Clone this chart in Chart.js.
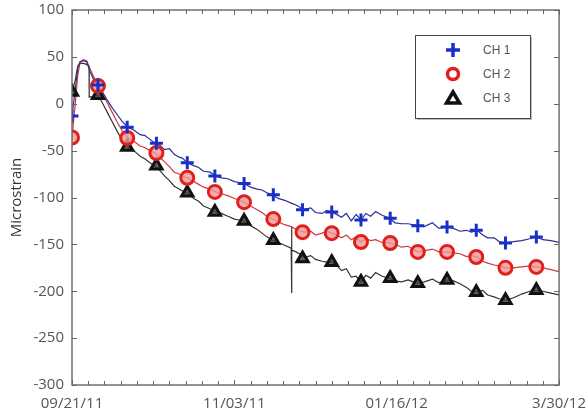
<!DOCTYPE html>
<html>
<head>
<meta charset="utf-8">
<script src="https://cdn.jsdelivr.net/npm/chart.js@4/dist/chart.umd.min.js"></script>
<style>
  html, body { margin: 0; padding: 0; background: #fff; }
  #wrap { width: 588px; height: 417px; }
</style>
</head>
<body>
<div id="wrap"><canvas id="myChart" width="588" height="417"></canvas></div>
<script>
// data (x is position along the time axis, 0..300)
var dateLabels = ['09/21/11', '11/03/11', '01/16/12', '3/30/12'];
var yTicks = [100, 50, 0, -50, -100, -150, -200, -250, -300];

var ch1X = [0, 2, 3.5, 5, 7, 9, 11, 13, 16, 19, 22, 25, 28, 31, 34.4, 38, 42, 45, 48, 51, 54, 57, 60, 63, 66, 68, 71, 75, 78, 81, 85, 88.5, 92, 96, 100, 103, 106, 110, 114, 117, 120, 123.5, 127, 131, 135, 138, 141, 143, 147, 150, 154, 157, 160, 163, 166, 169, 172, 175, 178, 181, 184, 187, 191, 195.5, 199, 203, 207, 212.7, 217, 222, 226, 231, 235, 239, 243, 246, 249.5, 253, 256, 260, 263, 267.4, 272, 277, 282, 285.8, 290, 295, 300];
var ch1Y = [-13, 15, 38, 45, 46, 45, 35, 27, 20, 12, 3, -5, -12, -19, -25, -28, -33, -34, -38, -42, -44, -49, -48, -54, -57, -58, -63, -66, -68, -72, -73, -77, -79, -80, -83, -84, -85, -89, -91, -92, -95, -97, -101, -103, -106, -108, -111, -113, -111, -116, -117, -114, -115.5, -118, -121, -117, -125, -118, -124, -117, -120, -115, -119, -122, -127, -128, -128, -130, -131, -127, -133, -131.5, -133, -136, -135, -137, -135, -140, -143, -143, -147, -148.5, -147, -146, -144, -142, -145, -146, -148];

var ch2X = ch1X;
var ch2Y = [-36, 0, 30, 44, 47, 46, 38, 30, 19, 10, 0, -10, -20, -29, -36.5, -40, -45, -47, -50, -52.5, -57, -62, -67, -73, -75, -77, -79, -83, -86, -89, -91, -94, -96, -98, -101, -103, -105, -109, -113, -116, -120, -123, -126, -129, -131, -134, -136, -137, -136, -140, -138, -136, -138, -140, -143, -140, -145, -142, -147.5, -144, -146, -145, -148, -148.5, -150, -153, -152, -158, -157, -155, -158, -158, -159, -160, -163, -162, -163.5, -168, -170, -172, -173, -175, -175, -174, -173, -174, -175, -177, -179];

var ch3X = [0, 2, 3.5, 5, 7, 9, 10.5, 10.6, 13, 16, 19, 22, 25, 28, 31, 34.4, 38, 42, 45, 48, 51, 54, 57, 60, 63, 66, 68, 71, 75, 78, 81, 85, 88.5, 92, 96, 100, 103, 106, 110, 114, 117, 120, 123.5, 127, 131, 135, 135.2, 135.3, 135.5, 138, 141, 143, 147, 150, 154, 157, 160, 163, 166, 169, 172, 175, 178, 181, 184, 187, 191, 195.5, 199, 203, 207, 212.7, 217, 222, 226, 231, 235, 239, 243, 246, 249.5, 253, 256, 260, 263, 267.4, 272, 277, 282, 285.8, 290, 295, 300];
var ch3Y = [12.5, 25, 40, 43, 43, 42, 40, 7, 8, 9, 0, -10, -20, -30, -39, -46, -50, -56, -59, -63, -66, -71, -77, -82, -88, -91, -93, -95, -101, -104, -109, -112, -115.5, -117, -120, -123, -124, -125, -130, -134, -138, -142, -145.5, -148, -151, -154, -131, -202, -156, -158, -161, -164, -162, -166, -168, -169, -169, -172, -178, -176, -185, -184, -190, -183, -186, -180, -184, -186, -189, -190, -188, -191.5, -190, -187, -191, -188, -189, -192, -196, -200, -201, -199, -204, -206, -208, -209.5, -207, -203, -200, -199, -200, -202, -204];

var markerX = [0, 16, 34, 52, 71, 88, 106, 124, 142, 160, 178, 196, 213, 231, 249, 267, 286];
var ch1Marks = [-13, 20, -25, -42, -63, -77, -85, -97, -113, -115.5, -124, -122, -130, -131.5, -135, -148.5, -142];
var ch2Marks = [-36, 19, -36.5, -52.5, -79, -94, -105, -123, -137, -138, -147.5, -148.5, -158, -158, -163.5, -175, -174];
var ch3Marks = [12.5, 9, -46, -66, -95, -115.5, -125, -145.5, -165, -169, -190, -186, -191.5, -188, -201, -209.5, -199];

var seriesNames = ['CH 1', 'CH 2', 'CH 3'];

function pts(xs, ys) {
    return xs.map(function(x, i) { return { x: x, y: ys[i] }; });
}

function lineSet(xs, ys, color) {
    return {
        data: pts(xs, ys),
        borderColor: color,
        borderWidth: 1.2,
        pointRadius: 0,
        tension: 0,
        order: 2
    };
}

function markSet(name, ys, style, color, fill) {
    return {
        label: name,
        data: pts(markerX, ys),
        showLine: false,
        pointStyle: style,
        pointRadius: 6.5,
        pointBorderWidth: 3,
        pointBorderColor: color,
        pointBackgroundColor: fill,
        order: 1
    };
}

// frame + inward ticks, matlab style
var frameTicks = {
    id: 'frameTicks',
    afterDatasetsDraw: function(chart) {
        var ctx = chart.ctx, a = chart.chartArea;
        var xs = chart.scales.x, ys = chart.scales.y;
        ctx.save();
        ctx.strokeStyle = '#666';
        ctx.lineWidth = 1.4;
        ctx.strokeRect(a.left, a.top, a.right - a.left, a.bottom - a.top);
        ctx.lineWidth = 1;
        for (var v = 0; v <= 300; v += 10) {
            var px = Math.round(xs.getPixelForValue(v)) + 0.5;
            var len = (v % 100 === 0) ? 5 : 4;
            ctx.beginPath();
            ctx.moveTo(px, a.bottom); ctx.lineTo(px, a.bottom - len);
            ctx.moveTo(px, a.top); ctx.lineTo(px, a.top + len);
            ctx.stroke();
        }
        yTicks.forEach(function(t) {
            var py = Math.round(ys.getPixelForValue(t)) + 0.5;
            ctx.beginPath();
            ctx.moveTo(a.left, py); ctx.lineTo(a.left + 5, py);
            ctx.moveTo(a.right, py); ctx.lineTo(a.right - 5, py);
            ctx.stroke();
        });
        ctx.restore();
    }
};

// boxed legend in the upper right
var boxLegend = {
    id: 'boxLegend',
    afterDraw: function(chart) {
        var ctx = chart.ctx;
        var bx = 415, by = 35, bw = 115, bh = 83;
        ctx.save();
        ctx.fillStyle = '#bbb';
        ctx.fillRect(bx + 2, by + 2, bw, bh);
        ctx.fillStyle = '#fff';
        ctx.fillRect(bx, by, bw, bh);
        ctx.strokeStyle = '#444';
        ctx.lineWidth = 1;
        ctx.strokeRect(bx + 0.5, by + 0.5, bw, bh);
        var rows = [50, 74, 98];
        var sets = [chart.data.datasets[3], chart.data.datasets[4], chart.data.datasets[5]];
        sets.forEach(function(ds, i) {
            var cx = 453, cy = rows[i];
            ctx.lineWidth = 3.5;
            ctx.strokeStyle = ds.pointBorderColor;
            ctx.beginPath();
            if (ds.pointStyle === 'cross') {
                ctx.moveTo(cx - 7, cy); ctx.lineTo(cx + 7, cy);
                ctx.moveTo(cx, cy - 7); ctx.lineTo(cx, cy + 7);
            } else if (ds.pointStyle === 'circle') {
                ctx.arc(cx, cy, 5.5, 0, Math.PI * 2);
            } else {
                ctx.moveTo(cx, cy - 6); ctx.lineTo(cx + 6.5, cy + 5); ctx.lineTo(cx - 6.5, cy + 5); ctx.closePath();
            }
            ctx.stroke();
            ctx.fillStyle = '#555';
            ctx.font = '12px "Liberation Sans", sans-serif';
            ctx.textBaseline = 'middle';
            ctx.fillText(ds.label, 483, cy + 1);
        });
        ctx.restore();
    }
};

new Chart(document.getElementById('myChart').getContext('2d'), {
    type: 'line',
    data: {
        datasets: [
            lineSet(ch1X, ch1Y, '#2b2f8f'),
            lineSet(ch2X, ch2Y, '#d03a3a'),
            lineSet(ch3X, ch3Y, '#333333'),
            markSet(seriesNames[0], ch1Marks, 'cross', '#1a2fc8', '#1a2fc8'),
            markSet(seriesNames[1], ch2Marks, 'circle', '#e0201c', 'rgba(240,150,150,0.8)'),
            markSet(seriesNames[2], ch3Marks, 'triangle', '#111111', 'rgba(60,60,60,0.8)')
        ]
    },
    options: {
        responsive: false,
        animation: false,
        layout: { padding: { left: 0, right: 28, top: 10, bottom: 0 } },
        plugins: { legend: { display: false }, tooltip: { enabled: false } },
        scales: {
            x: {
                type: 'linear',
                min: 0,
                max: 300,
                afterFit: function(s) { s.height = 32; },
                afterBuildTicks: function(s) {
                    s.ticks = [0, 100, 200, 300].map(function(v) { return { value: v }; });
                },
                grid: { display: false },
                border: { display: false },
                ticks: {
                    maxRotation: 0,
                    autoSkip: false,
                    padding: 2,
                    color: '#555',
                    font: { size: 15, family: '"Open Sans", sans-serif' },
                    callback: function(v) { return dateLabels[v / 100]; }
                }
            },
            y: {
                min: -300,
                max: 100,
                afterFit: function(s) { s.width = 72; },
                afterBuildTicks: function(s) {
                    s.ticks = yTicks.map(function(v) { return { value: v }; });
                },
                grid: { display: false },
                border: { display: false },
                ticks: {
                    padding: 0,
                    color: '#555',
                    font: { size: 15, family: '"Open Sans", sans-serif' }
                },
                title: {
                    display: true,
                    text: 'Microstrain',
                    color: '#333',
                    padding: { top: 8, bottom: 0 },
                    font: { size: 15, family: '"Open Sans", sans-serif' }
                }
            }
        }
    },
    plugins: [frameTicks, boxLegend]
});
</script>
</body>
</html>
